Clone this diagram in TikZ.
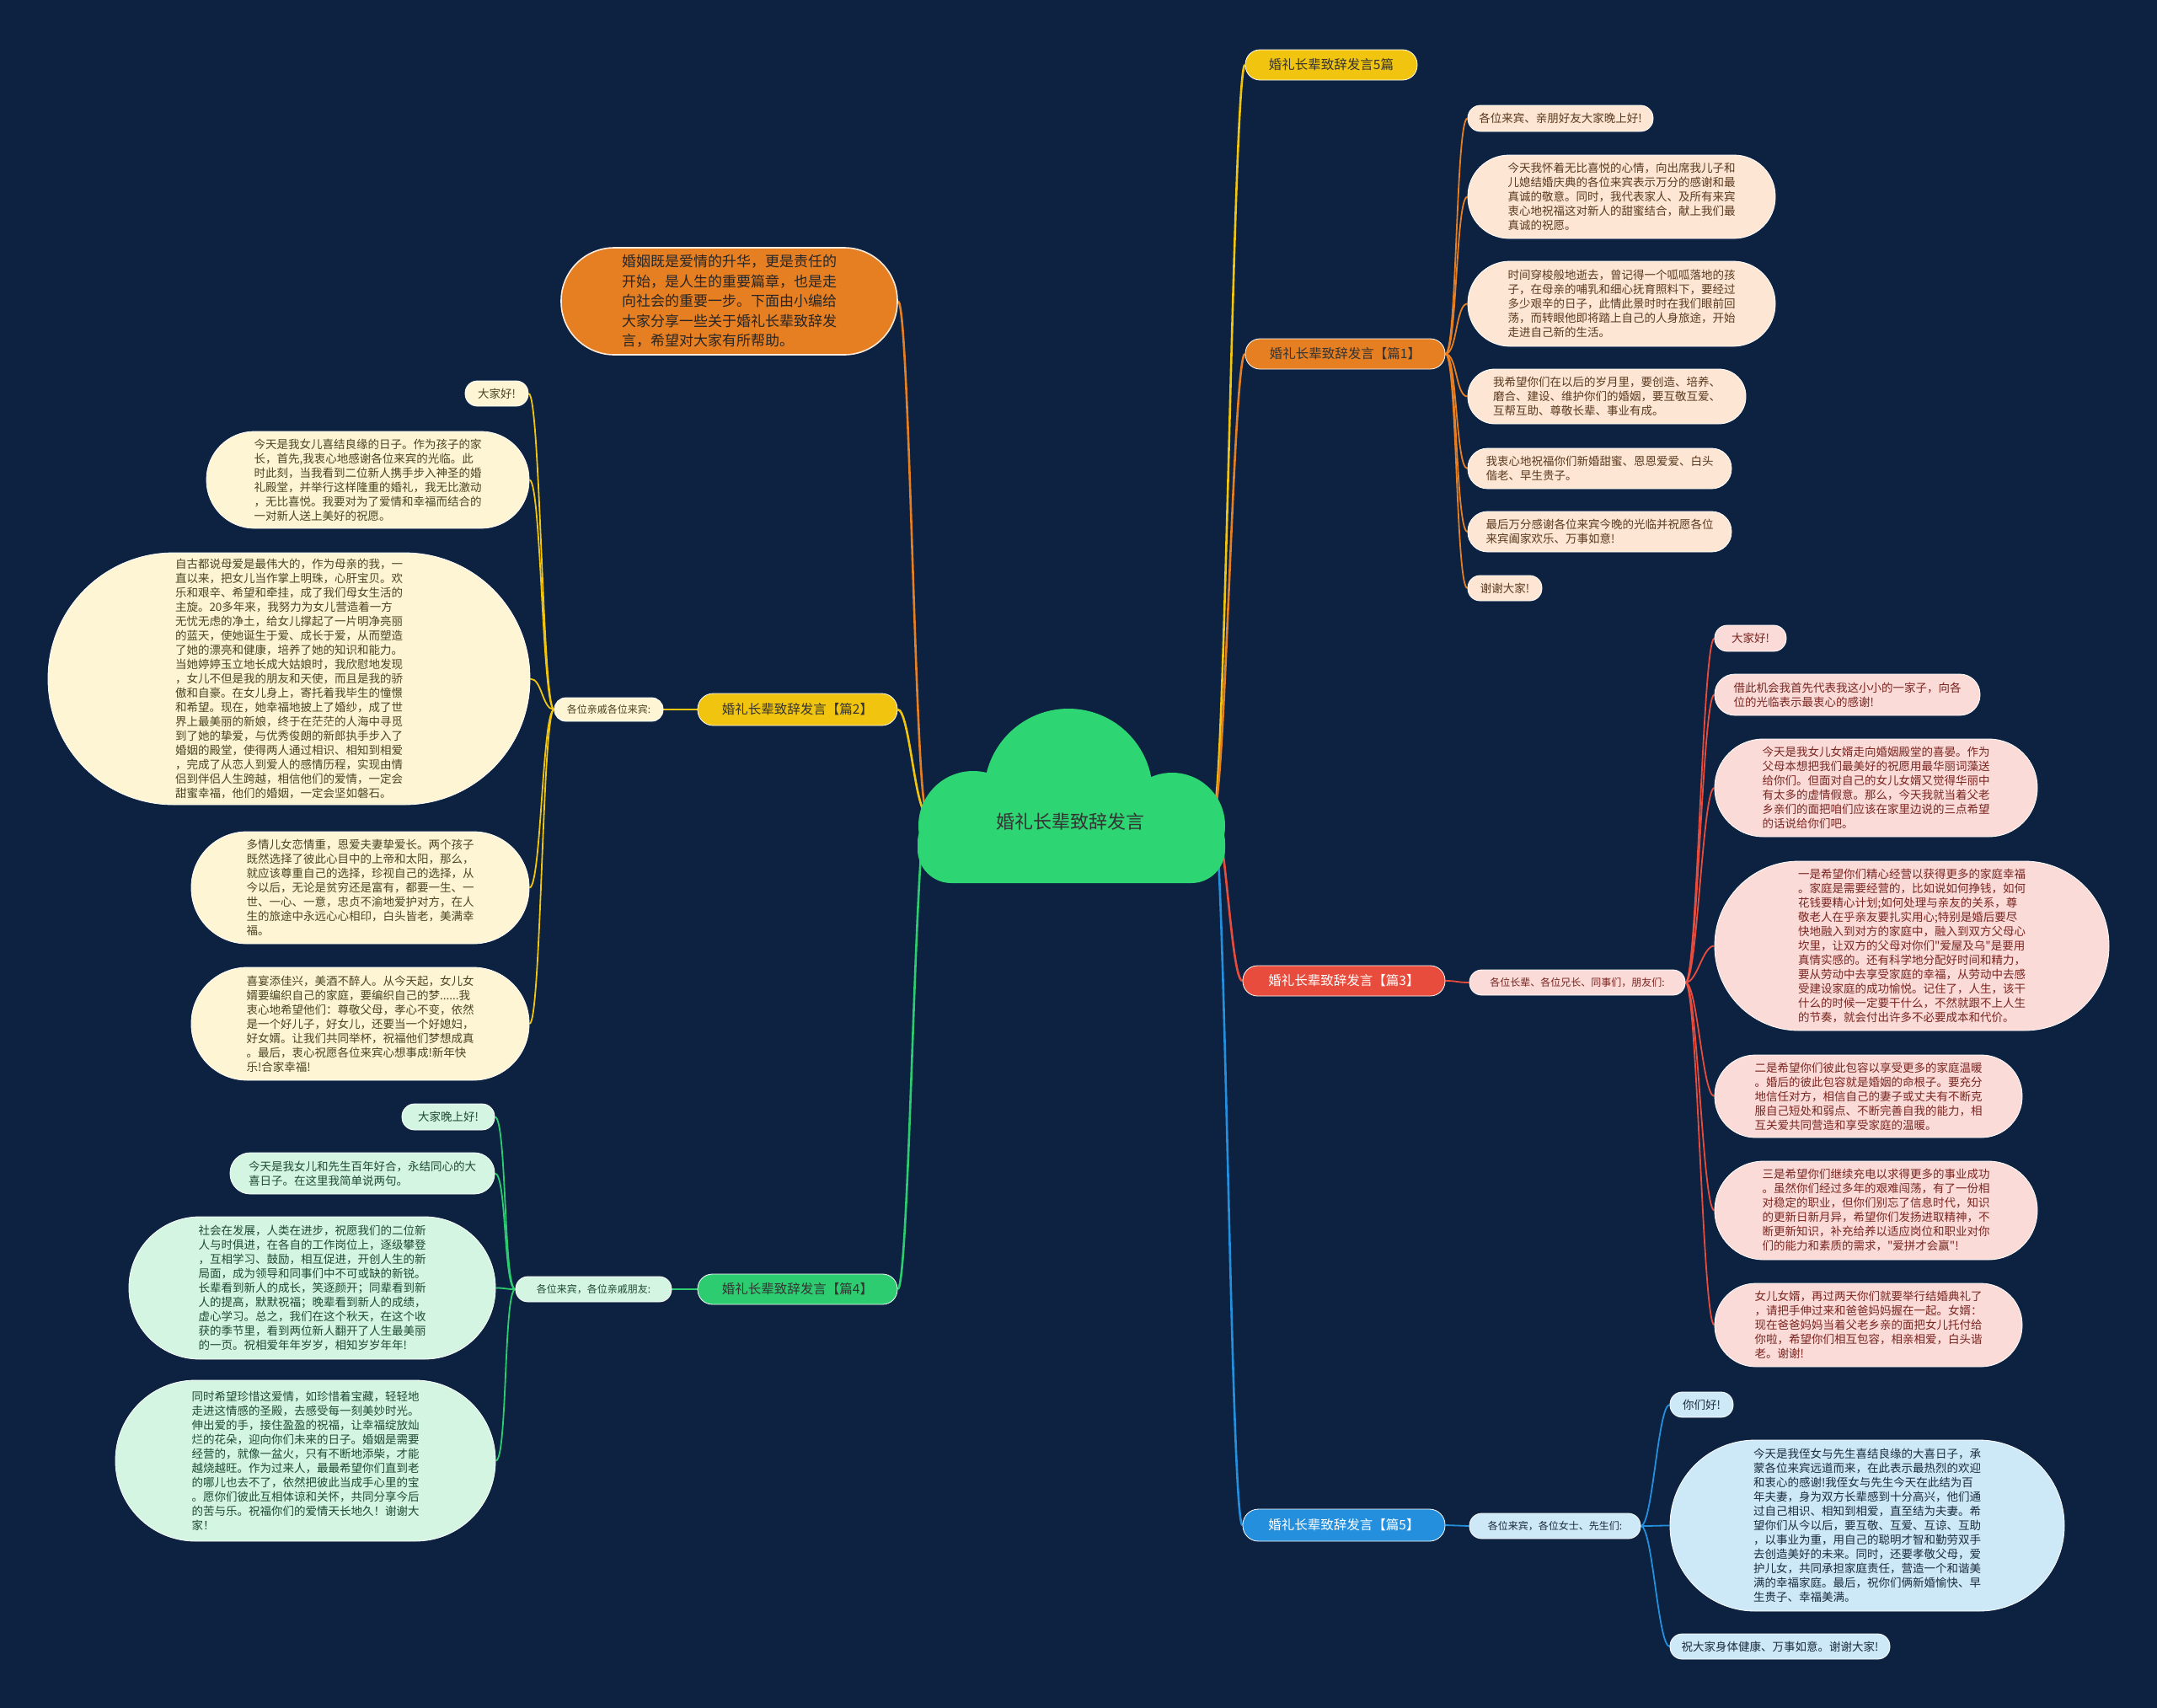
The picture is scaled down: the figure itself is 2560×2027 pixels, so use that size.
\documentclass[tikz,border=0pt]{standalone}
\usepackage{fontspec}
\newfontfamily\cjk{Noto Sans CJK SC}
\usetikzlibrary{backgrounds}
\definecolor{bgc}{HTML}{0C2240}
\definecolor{cloudc}{HTML}{2ED573}
\definecolor{orangec}{HTML}{E67E22}
\definecolor{goldc}{HTML}{F1C40F}
\definecolor{redc}{HTML}{E74C3C}
\definecolor{bluec}{HTML}{2490DD}
\definecolor{greenc}{HTML}{2ECC71}
\definecolor{peach}{HTML}{FDE6D3}
\definecolor{cream}{HTML}{FDF5D4}
\definecolor{pinkc}{HTML}{FADBD8}
\definecolor{mint}{HTML}{D3F5E2}
\definecolor{lblue}{HTML}{CDE8F7}
\definecolor{tpeach}{HTML}{5A3A20}
\definecolor{tcream}{HTML}{4A4524}
\definecolor{tpink}{HTML}{7A2520}
\definecolor{tmint}{HTML}{1E4A32}
\definecolor{tblue}{HTML}{1B2D40}
\tikzset{
  leaf/.style={draw=white, line width=0.8pt, inner sep=0pt, align=left,
    font=\cjk\fontsize{13.5}{17}\selectfont},
  lf1/.style={leaf, fill=peach, text=tpeach},
  lf2/.style={leaf, fill=cream, text=tcream},
  lf3/.style={leaf, fill=pinkc, text=tpink},
  lf4/.style={leaf, fill=mint, text=tmint},
  lf5/.style={leaf, fill=lblue, text=tblue},
  lab/.style={leaf, font=\cjk\fontsize{12}{14}\selectfont},
  mainnode/.style={inner sep=0pt, draw=white, line width=0.8pt, font=\cjk\fontsize{15.5}{18}\selectfont},
  conn/.style={line width=2.6pt, draw=#1},
  subconn/.style={line width=1.8pt, draw=#1}
}
\newcommand\bx[7]{\node[#2, minimum width={#5-#3}, minimum height={#6-#4}, rounded corners={(#6-#4)/2-0.5}] (#1) at ({(#3+#5)/2},{(#4+#6)/2}) {#7};}
\newcommand\cR[3]{\draw[#1] (#2) .. controls +(14,0) and +(-14,0) .. (#3);}
\newcommand\cL[3]{\draw[#1] (#2) .. controls +(-14,0) and +(14,0) .. (#3);}
\begin{document}
\begin{tikzpicture}[x=1pt,y=-1pt]
\useasboundingbox (0,0) rectangle (2560,2027);
\begin{pgfonlayer}{background}
\fill[bgc] (0,0) rectangle (2560,2027);
\end{pgfonlayer}
% cloud
\fill[cloudc] (1268,941) circle (100pt);
\fill[cloudc] (1155,980) circle (65pt);
\fill[cloudc] (1391,980) circle (63pt);
\fill[cloudc, rounded corners=40pt] (1089,960) rectangle (1454,1048);
\node[font=\cjk\fontsize{22}{26}\selectfont, text=black!80] (roottext) at (1270,975) {婚礼长辈致辞发言};
\coordinate (rootR) at (1440,965);
\coordinate (rootL) at (1100,965);
% main nodes
\node[mainnode, fill=goldc, text=black!80, minimum width=204pt, minimum height=36pt, rounded corners=17.5pt] (m0) at (1580,77) {婚礼长辈致辞发言5篇};
\node[mainnode, fill=orangec, text=black!80, minimum width=237pt, minimum height=36pt, rounded corners=17.5pt] (p1) at (1596.5,420) {婚礼长辈致辞发言【篇1】};
\node[mainnode, fill=redc, text=white, minimum width=240pt, minimum height=36pt, rounded corners=17.5pt] (p3) at (1595,1164) {婚礼长辈致辞发言【篇3】};
\node[mainnode, fill=bluec, text=white, minimum width=240pt, minimum height=38pt, rounded corners=18.5pt] (p5) at (1595,1810) {婚礼长辈致辞发言【篇5】};
\node[mainnode, fill=goldc, text=black!80, minimum width=237pt, minimum height=38pt, rounded corners=18.5pt] (p2) at (946.5,842) {婚礼长辈致辞发言【篇2】};
\node[mainnode, fill=greenc, text=black!80, minimum width=237pt, minimum height=36pt, rounded corners=17.5pt] (p4) at (946.5,1530) {婚礼长辈致辞发言【篇4】};
\node[draw=white!85!orangec, line width=1.6pt, fill=orangec, text=black!85, inner sep=0pt, align=left,
  font=\cjk\fontsize{17}{23.5}\selectfont, minimum width=399pt, minimum height=127pt, rounded corners=63pt] (intro) at (865.5,357.5)
  {婚姻既是爱情的升华，更是责任的\\开始，是人生的重要篇章，也是走\\向社会的重要一步。下面由小编给\\大家分享一些关于婚礼长辈致辞发\\言，希望对大家有所帮助。};
% labels
\bx{lab2}{lab, fill=cream, text=tcream}{658}{828}{787}{856}{各位亲戚各位来宾:}
\bx{lab3}{lab, fill=pinkc, text=tpink}{1744}{1151}{2000}{1181}{各位长辈、各位兄长、同事们，朋友们:}
\bx{lab4}{lab, fill=mint, text=tmint}{612}{1515}{797}{1545}{各位来宾，各位亲戚朋友:}
\bx{lab5}{lab, fill=lblue, text=tblue}{1744}{1796}{1947}{1826}{各位来宾，各位女士、先生们:}
% branch 1
\bx{l1a}{lf1}{1742}{125}{1962}{156}{各位来宾、亲朋好友大家晚上好!}
\bx{l1b}{lf1}{1742}{184}{2107}{283}{今天我怀着无比喜悦的心情，向出席我儿子和\\儿媳结婚庆典的各位来宾表示万分的感谢和最\\真诚的敬意。同时，我代表家人、及所有来宾\\衷心地祝福这对新人的甜蜜结合，献上我们最\\真诚的祝愿。}
\bx{l1c}{lf1}{1742}{310}{2107}{411}{时间穿梭般地逝去，曾记得一个呱呱落地的孩\\子，在母亲的哺乳和细心抚育照料下，要经过\\多少艰辛的日子，此情此景时时在我们眼前回\\荡，而转眼他即将踏上自己的人身旅途，开始\\走进自己新的生活。}
\bx{l1d}{lf1}{1742}{438}{2072}{503}{我希望你们在以后的岁月里，要创造、培养、\\磨合、建设、维护你们的婚姻，要互敬互爱、\\互帮互助、尊敬长辈、事业有成。}
\bx{l1e}{lf1}{1742}{532}{2055}{580}{我衷心地祝福你们新婚甜蜜、恩恩爱爱、白头\\偕老、早生贵子。}
\bx{l1f}{lf1}{1742}{607}{2055}{655}{最后万分感谢各位来宾今晚的光临并祝愿各位\\来宾阖家欢乐、万事如意!}
\bx{l1g}{lf1}{1742}{683}{1830}{713}{谢谢大家!}
% branch 2
\bx{l2a}{lf2}{552}{452}{627}{482}{大家好!}
\bx{l2b}{lf2}{245}{512}{628}{627}{今天是我女儿喜结良缘的日子。作为孩子的家\\长，首先,我衷心地感谢各位来宾的光临。此\\时此刻，当我看到二位新人携手步入神圣的婚\\礼殿堂，并举行这样隆重的婚礼，我无比激动\\，无比喜悦。我要对为了爱情和幸福而结合的\\一对新人送上美好的祝愿。}
\bx{l2c}{lf2}{57}{656}{629}{955}{自古都说母爱是最伟大的，作为母亲的我，一\\直以来，把女儿当作掌上明珠，心肝宝贝。欢\\乐和艰辛、希望和牵挂，成了我们母女生活的\\主旋。20多年来，我努力为女儿营造着一方\\无忧无虑的净土，给女儿撑起了一片明净亮丽\\的蓝天，使她诞生于爱、成长于爱，从而塑造\\了她的漂亮和健康，培养了她的知识和能力。\\当她婷婷玉立地长成大姑娘时，我欣慰地发现\\，女儿不但是我的朋友和天使，而且是我的骄\\傲和自豪。在女儿身上，寄托着我毕生的憧憬\\和希望。现在，她幸福地披上了婚纱，成了世\\界上最美丽的新娘，终于在茫茫的人海中寻觅\\到了她的挚爱，与优秀俊朗的新郎执手步入了\\婚姻的殿堂，使得两人通过相识、相知到相爱\\，完成了从恋人到爱人的感情历程，实现由情\\侣到伴侣人生跨越，相信他们的爱情，一定会\\甜蜜幸福，他们的婚姻，一定会坚如磐石。}
\bx{l2d}{lf2}{227}{987}{628}{1120}{多情儿女恋情重，恩爱夫妻挚爱长。两个孩子\\既然选择了彼此心目中的上帝和太阳，那么，\\就应该尊重自己的选择，珍视自己的选择，从\\今以后，无论是贫穷还是富有，都要一生、一\\世、一心、一意，忠贞不渝地爱护对方，在人\\生的旅途中永远心心相印，白头皆老，美满幸\\福。}
\bx{l2e}{lf2}{227}{1148}{628}{1282}{喜宴添佳兴，美酒不醉人。从今天起，女儿女\\婿要编织自己的家庭，要编织自己的梦......我\\衷心地希望他们：尊敬父母，孝心不变，依然\\是一个好儿子，好女儿，还要当一个好媳妇，\\好女婿。让我们共同举杯，祝福他们梦想成真\\。最后，衷心祝愿各位来宾心想事成!新年快\\乐!合家幸福!}
% branch 3
\bx{l3a}{lf3}{2035}{742}{2120}{773}{大家好!}
\bx{l3b}{lf3}{2035}{800}{2350}{849}{借此机会我首先代表我这小小的一家子，向各\\位的光临表示最衷心的感谢!}
\bx{l3c}{lf3}{2035}{877}{2418}{993}{今天是我女儿女婿走向婚姻殿堂的喜晏。作为\\父母本想把我们最美好的祝愿用最华丽词藻送\\给你们。但面对自己的女儿女婿又觉得华丽中\\有太多的虚情假意。那么，今天我就当着父老\\乡亲们的面把咱们应该在家里边说的三点希望\\的话说给你们吧。}
\bx{l3d}{lf3}{2035}{1022}{2503}{1223}{一是希望你们精心经营以获得更多的家庭幸福\\。家庭是需要经营的，比如说如何挣钱，如何\\花钱要精心计划;如何处理与亲友的关系，尊\\敬老人在乎亲友要扎实用心;特别是婚后要尽\\快地融入到对方的家庭中，融入到双方父母心\\坎里，让双方的父母对你们"爱屋及乌"是要用\\真情实感的。还有科学地分配好时间和精力，\\要从劳动中去享受家庭的幸福，从劳动中去感\\受建设家庭的成功愉悦。记住了，人生，该干\\什么的时候一定要干什么，不然就跟不上人生\\的节奏，就会付出许多不必要成本和代价。}
\bx{l3e}{lf3}{2035}{1252}{2400}{1350}{二是希望你们彼此包容以享受更多的家庭温暖\\。婚后的彼此包容就是婚姻的命根子。要充分\\地信任对方，相信自己的妻子或丈夫有不断克\\服自己短处和弱点、不断完善自我的能力，相\\互关爱共同营造和享受家庭的温暖。}
\bx{l3f}{lf3}{2035}{1378}{2418}{1495}{三是希望你们继续充电以求得更多的事业成功\\。虽然你们经过多年的艰难闯荡，有了一份相\\对稳定的职业，但你们别忘了信息时代，知识\\的更新日新月异，希望你们发扬进取精神，不\\断更新知识，补充给养以适应岗位和职业对你\\们的能力和素质的需求，"爱拼才会赢"!}
\bx{l3g}{lf3}{2035}{1523}{2400}{1622}{女儿女婿，再过两天你们就要举行结婚典礼了\\，请把手伸过来和爸爸妈妈握在一起。女婿：\\现在爸爸妈妈当着父老乡亲的面把女儿托付给\\你啦，希望你们相互包容，相亲相爱，白头谐\\老。谢谢!}
% branch 4
\bx{l4a}{lf4}{477}{1310}{587}{1341}{大家晚上好!}
\bx{l4b}{lf4}{273}{1368}{587}{1417}{今天是我女儿和先生百年好合，永结同心的大\\喜日子。在这里我简单说两句。}
\bx{l4c}{lf4}{153}{1444}{588}{1613}{社会在发展，人类在进步，祝愿我们的二位新\\人与时俱进，在各自的工作岗位上，逐级攀登\\，互相学习、鼓励，相互促进，开创人生的新\\局面，成为领导和同事们中不可或缺的新锐。\\长辈看到新人的成长，笑逐颜开；同辈看到新\\人的提高，默默祝福；晚辈看到新人的成绩，\\虚心学习。总之，我们在这个秋天，在这个收\\获的季节里，看到两位新人翻开了人生最美丽\\的一页。祝相爱年年岁岁，相知岁岁年年!}
\bx{l4d}{lf4}{137}{1638}{588}{1829}{同时希望珍惜这爱情，如珍惜着宝藏，轻轻地\\走进这情感的圣殿，去感受每一刻美妙时光。\\伸出爱的手，接住盈盈的祝福，让幸福绽放灿\\烂的花朵，迎向你们未来的日子。婚姻是需要\\经营的，就像一盆火，只有不断地添柴，才能\\越烧越旺。作为过来人，最最希望你们直到老\\的哪儿也去不了，依然把彼此当成手心里的宝\\。愿你们彼此互相体谅和关怀，共同分享今后\\的苦与乐。祝福你们的爱情天长地久！谢谢大\\家！}
% branch 5
\bx{l5a}{lf5}{1982}{1652}{2057}{1682}{你们好!}
\bx{l5b}{lf5}{1982}{1709}{2450}{1912}{今天是我侄女与先生喜结良缘的大喜日子，承\\蒙各位来宾远道而来，在此表示最热烈的欢迎\\和衷心的感谢!我侄女与先生今天在此结为百\\年夫妻，身为双方长辈感到十分高兴，他们通\\过自己相识、相知到相爱，直至结为夫妻。希\\望你们从今以后，要互敬、互爱、互谅、互助\\，以事业为重，用自己的聪明才智和勤劳双手\\去创造美好的未来。同时，还要孝敬父母，爱\\护儿女，共同承担家庭责任，营造一个和谐美\\满的幸福家庭。最后，祝你们俩新婚愉快、早\\生贵子、幸福美满。}
\bx{l5c}{lf5}{1982}{1939}{2243}{1969}{祝大家身体健康、万事如意。谢谢大家!}
% connectors
\begin{pgfonlayer}{background}
\cR{conn=goldc}{rootR}{m0.west}
\cR{conn=orangec}{rootR}{p1.west}
\cR{conn=redc}{rootR}{p3.west}
\cR{conn=bluec}{rootR}{p5.west}
\cL{conn=orangec}{rootL}{intro.east}
\cL{conn=goldc}{rootL}{p2.east}
\cL{conn=greenc}{rootL}{p4.east}
\foreach \n in {l1a,l1b,l1c,l1d,l1e,l1f,l1g}{\cR{subconn=orangec}{p1.east}{\n.west}}
\cL{subconn=goldc}{p2.west}{lab2.east}
\foreach \n in {l2a,l2b,l2c,l2d,l2e}{\cL{subconn=goldc}{lab2.west}{\n.east}}
\cR{subconn=redc}{p3.east}{lab3.west}
\foreach \n in {l3a,l3b,l3c,l3d,l3e,l3f,l3g}{\cR{subconn=redc}{lab3.east}{\n.west}}
\cL{subconn=greenc}{p4.west}{lab4.east}
\foreach \n in {l4a,l4b,l4c,l4d}{\cL{subconn=greenc}{lab4.west}{\n.east}}
\cR{subconn=bluec}{p5.east}{lab5.west}
\foreach \n in {l5a,l5b,l5c}{\cR{subconn=bluec}{lab5.east}{\n.west}}
\end{pgfonlayer}
\end{tikzpicture}
\end{document}
